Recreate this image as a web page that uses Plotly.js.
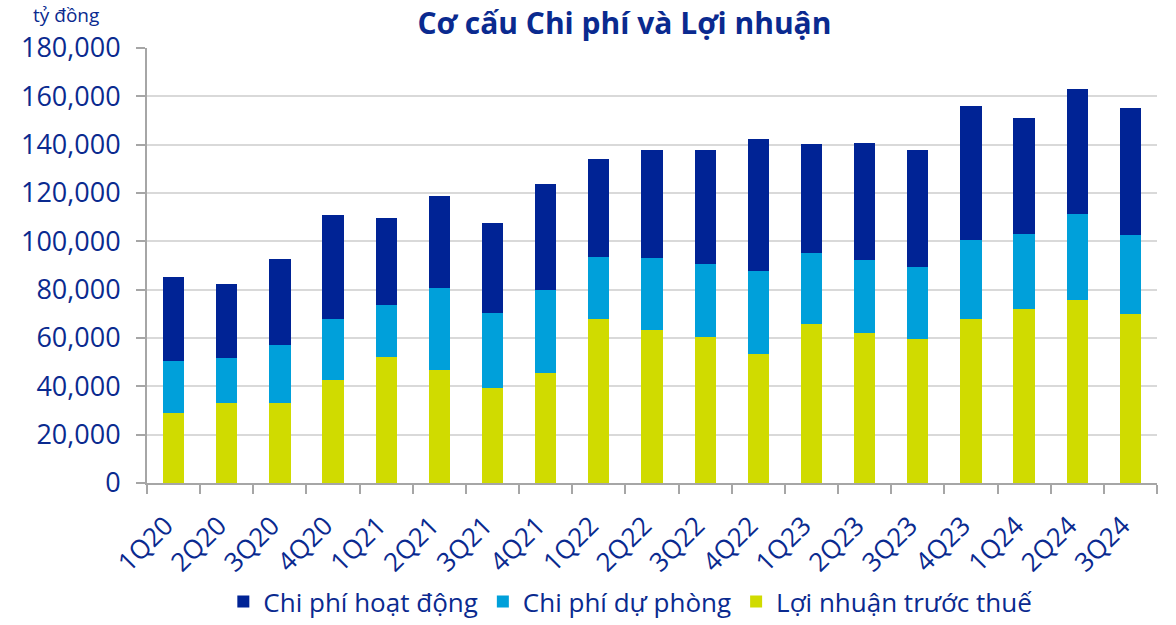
<!DOCTYPE html>
<html>
<head>
<meta charset="utf-8">
<script src="https://cdn.plot.ly/plotly-3.0.1.min.js"></script>
<style>html,body{margin:0;padding:0;background:#fff;}#chart{width:1176px;height:625px;}</style>
</head>
<body>
<div id="chart"></div>
<script>
const categories = ["1Q20","2Q20","3Q20","4Q20","1Q21","2Q21","3Q21","4Q21","1Q22","2Q22","3Q22","4Q22","1Q23","2Q23","3Q23","4Q23","1Q24","2Q24","3Q24"];
const loiNhuanTruocThue = [29000,33000,32900,42500,52000,46700,39300,45500,67900,63500,60300,53300,65700,62000,59500,67800,71900,75900,70000];
const chiPhiDuPhong = [21500,18600,24100,25300,21600,34000,31000,34200,25700,29500,30500,34400,29500,30200,29800,32800,31200,35300,32500];
const chiPhiHoatDong = [34600,30800,35500,43000,36000,38000,37200,44100,40300,44800,47000,54600,45000,48500,48300,55500,47800,51800,52800];
const seriesNames = ["Lợi nhuận trước thuế","Chi phí dự phòng","Chi phí hoạt động"];
const colors = ["#D0DB00","#00A0DA","#002395"];
const textColor = "#0A2A8F";
const font = "'Open Sans', 'Noto Sans', sans-serif";

const data = [loiNhuanTruocThue, chiPhiDuPhong, chiPhiHoatDong].map((vals, i) => ({
  type: "bar",
  name: seriesNames[i],
  x: categories,
  y: vals,
  marker: {color: colors[i], line: {width: 0}},
  hoverinfo: "x+y+name"
}));

const layout = {
  width: 1176, height: 625,
  margin: {l: 147, r: 19, t: 48, b: 142},
  paper_bgcolor: "#fff", plot_bgcolor: "#fff",
  barmode: "stack",
  bargap: 0.6,
  font: {family: font, color: textColor},
  title: {text: "<b>Cơ cấu Chi phí và Lợi nhuận</b>", x: 0.531, xanchor: "center", y: 0.962, yanchor: "middle", font: {size: 30, color: textColor, family: font}},
  xaxis: {
    type: "category",
    tickangle: -45,
    tickfont: {size: 26, color: textColor},
    ticklabelstandoff: 15,
    ticklabelshift: -8,
    showline: true, linecolor: "#A6A6A6", linewidth: 2,
    ticks: "outside", tickson: "boundaries", ticklen: 9, tickcolor: "#A6A6A6", tickwidth: 2,
    showgrid: false,
    automargin: false
  },
  yaxis: {
    range: [0, 180000],
    tickvals: [0,20000,40000,60000,80000,100000,120000,140000,160000,180000],
    ticktext: ["0","20,000","40,000","60,000","80,000","100,000","120,000","140,000","160,000","180,000"],
    tickfont: {size: 27, color: textColor},
    ticklabelstandoff: 10,
    showline: true, linecolor: "#A6A6A6", linewidth: 2,
    ticks: "outside", ticklen: 9, tickcolor: "#A6A6A6", tickwidth: 2,
    gridcolor: "#D9D9D9", gridwidth: 1.5,
    zeroline: false,
    automargin: false
  },
  legend: {
    orientation: "h", traceorder: "reversed",
    xref: "container", yref: "container",
    x: 0.536, xanchor: "center", y: -0.008, yanchor: "bottom",
    font: {size: 26, color: textColor},
    itemwidth: 30
  },
  annotations: [{
    text: "tỷ đồng", xref: "paper", yref: "paper", x: -0.08, y: 1.075,
    xanchor: "center", yanchor: "middle", showarrow: false,
    font: {size: 19, color: textColor}
  }]
};

Plotly.newPlot("chart", data, layout, {displayModeBar: false, staticPlot: false});
</script>
</body>
</html>
